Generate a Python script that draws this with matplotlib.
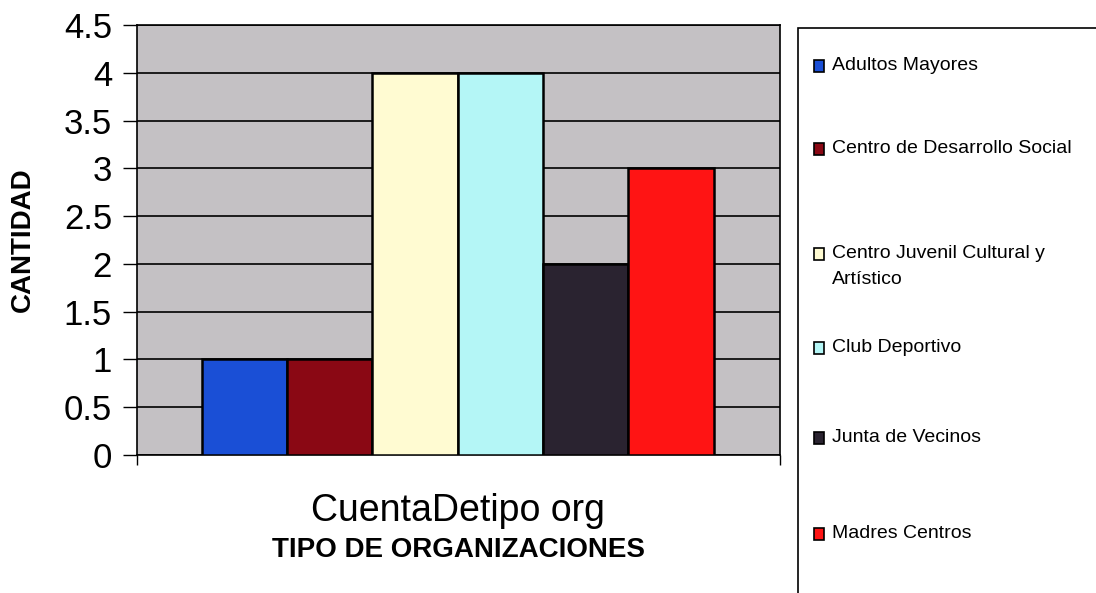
import numpy as np
import matplotlib.pyplot as plt
from matplotlib.patches import Rectangle

plt.rcParams["font.family"] = ["Liberation Sans", "DejaVu Sans"]

# data
categories = [
    "Adultos Mayores",
    "Centro de Desarrollo Social",
    "Centro Juvenil Cultural y\nArtístico",
    "Club Deportivo",
    "Junta de Vecinos",
    "Madres Centros",
]
counts = [1, 1, 4, 4, 2, 3]
bar_colors = ["#1a4fd6", "#8a0814", "#fffbd2", "#b4f6f6", "#2a2330", "#ff1414"]
group_label = "CuentaDetipo org"
y_ticks = [0, 0.5, 1, 1.5, 2, 2.5, 3, 3.5, 4, 4.5]

fig = plt.figure(figsize=(10.96, 5.93), dpi=100)
ax = fig.add_axes([0.125, 0.2327, 0.5867, 0.7251])
ax.set_facecolor("#c4c1c4")

x = np.arange(len(categories))
ax.bar(x, counts, width=1.0, color=bar_colors, edgecolor="black",
       linewidth=1.8, zorder=3)

ax.set_ylim(0, 4.5)
ax.set_xlim(-1.26, 6.28)
ax.set_yticks(y_ticks)
ax.set_yticklabels([f"{t:g}" for t in y_ticks])
ax.yaxis.grid(True, color="black", linewidth=1.2, zorder=1)
ax.set_axisbelow(True)
ax.tick_params(axis="y", direction="out", length=10, width=1,
               labelsize=25, pad=8)

ax.set_xticks([np.mean(x)])
ax.set_xticklabels([group_label])
ax.tick_params(axis="x", length=0, labelsize=27, pad=27)
ax.set_xticks(list(ax.get_xlim()), minor=True)
ax.tick_params(axis="x", which="minor", direction="out", length=7, width=1)

ax.set_xlabel("TIPO DE ORGANIZACIONES", fontsize=20, fontweight="bold",
              labelpad=6)
ax.set_ylabel("CANTIDAD", fontsize=20, fontweight="bold")
ax.yaxis.set_label_coords(-0.158, 0.5)

for side in ax.spines.values():
    side.set_color("black")
    side.set_linewidth(1.2)

# legend box, drawn by hand (runs off the bottom and right of the figure)
fig.patches.append(Rectangle((0.728, -0.02), 0.3, 0.973,
                             transform=fig.transFigure, facecolor="white",
                             edgecolor="black", linewidth=1.2))

legend_y = [65, 148, 253, 347, 437, 533]
for label, color, ypix in zip(categories, bar_colors, legend_y):
    yf = 1 - ypix / 593
    fig.patches.append(Rectangle((0.7425, yf - 0.011), 0.0095, 0.019,
                                 transform=fig.transFigure, facecolor=color,
                                 edgecolor="black", linewidth=1.2))
    for k, line in enumerate(label.split("\n")):
        fig.text(0.759, yf - k * 27 / 593, line, fontsize=14,
                 va="center", ha="left")

fig.savefig("out.png", dpi=100)
